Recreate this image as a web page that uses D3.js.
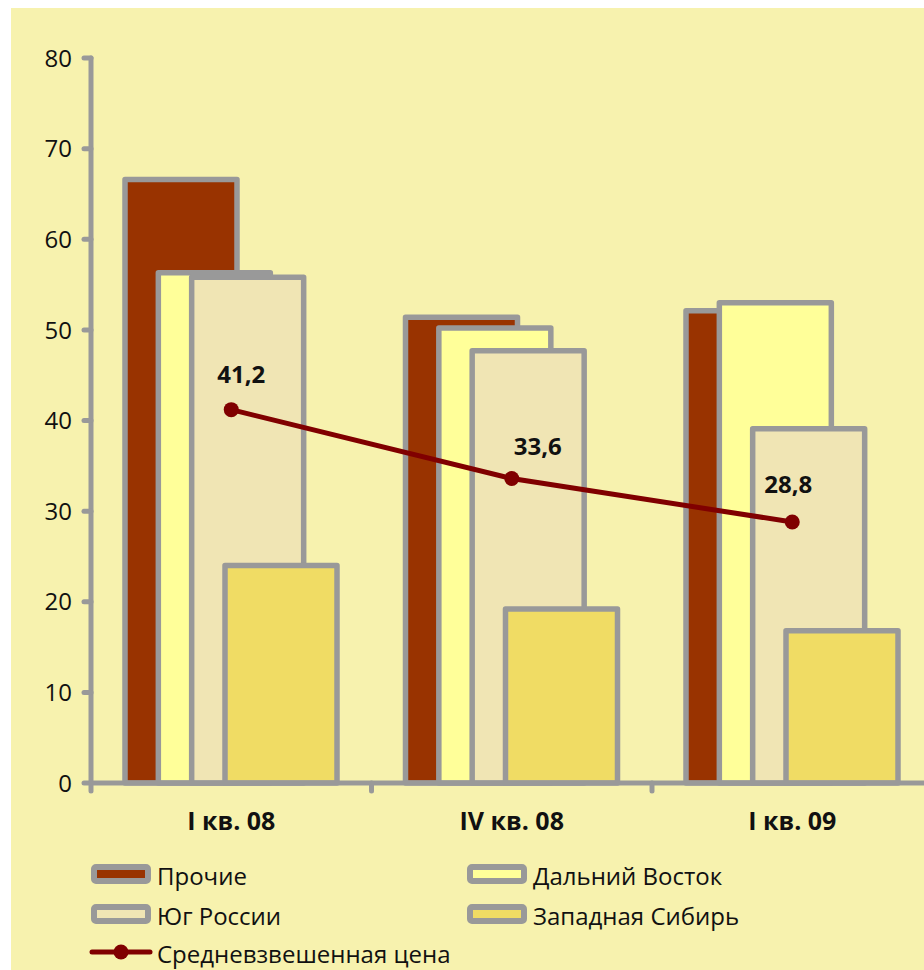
<!DOCTYPE html>
<html><head><meta charset="utf-8">
<script src="https://cdn.jsdelivr.net/npm/d3@7"></script>
<style>
html,body{margin:0;padding:0;background:#fff;}
svg{display:block;}
text{font-family:"Open Sans",sans-serif;}
</style></head>
<body>
<script>
// ---- data ----
const categories = ["I кв. 08", "IV кв. 08", "I кв. 09"];
const seriesNames = ["Прочие", "Дальний Восток", "Юг России", "Западная Сибирь"];
const prochie = [66.6, 51.4, 52.1];
const dalniyVostok = [56.3, 50.2, 53.0];
const yugRossii = [55.8, 47.7, 39.1];
const zapSibir = [24.0, 19.2, 16.8];
const avgPrice = [41.2, 33.6, 28.8];
const avgPriceLabels = ["41,2", "33,6", "28,8"];
const lineName = "Средневзвешенная цена";
const yTicks = [0, 10, 20, 30, 40, 50, 60, 70, 80];

// ---- styling ----
const colors = ["#993300", "#FFFF99", "#F0E5B4", "#F0DC64"];
const barStroke = "#999999";
const lineColor = "#800000";
const labelOffsets = [[10, -27], [26, -24], [-4, -29]];

const W = 924, H = 970;
const svg = d3.select("body").append("svg").attr("width", W).attr("height", H);
svg.append("rect").attr("x", 11).attr("y", 8).attr("width", W - 11).attr("height", H - 8).attr("fill", "#F7F2AE");

const y = d3.scaleLinear().domain([0, 80]).range([783, 58]);
const x = d3.scaleBand().domain(categories).range([91, 91 + 3 * 280.5]).padding(0);
const bw = x.bandwidth();
const sx = d3.scalePoint().domain(seriesNames).range([34, 134]);
const barW = 112;

const seriesValues = [prochie, dalniyVostok, yugRossii, zapSibir];

// bars
seriesNames.forEach((name, si) => {
  svg.append("g").selectAll("rect").data(seriesValues[si]).join("rect")
    .attr("x", (d, i) => x(categories[i]) + sx(name))
    .attr("y", d => y(d))
    .attr("width", barW)
    .attr("height", d => y(0) - y(d))
    .attr("fill", colors[si])
    .attr("stroke", barStroke)
    .attr("stroke-width", 5.5)
    .attr("stroke-linejoin", "round");
});

// axes
const axisG = svg.append("g").attr("stroke", barStroke).attr("stroke-width", 5).attr("stroke-linecap", "round");
axisG.append("line").attr("x1", 91).attr("x2", 940).attr("y1", y(0)).attr("y2", y(0));
axisG.append("line").attr("x1", 91).attr("x2", 91).attr("y1", y(80)).attr("y2", y(0));
axisG.selectAll(".yt").data(yTicks).join("line")
  .attr("x1", 84).attr("x2", 91).attr("y1", d => y(d)).attr("y2", d => y(d));
axisG.selectAll(".xt").data(categories).join("line")
  .attr("x1", d => x(d)).attr("x2", d => x(d)).attr("y1", y(0)).attr("y2", y(0) + 8);

svg.append("g").selectAll("text").data(yTicks).join("text")
  .attr("x", 72).attr("y", d => y(d)).attr("dy", "0.36em")
  .attr("text-anchor", "end").attr("font-size", 24).attr("fill", "#111")
  .text(d => d);

svg.append("g").selectAll("text").data(categories).join("text")
  .attr("x", d => x(d) + bw / 2).attr("y", 830)
  .attr("text-anchor", "middle").attr("font-size", 25).attr("font-weight", "bold").attr("fill", "#111")
  .text(d => d);

// line
const line = d3.line().x((d, i) => x(categories[i]) + bw / 2).y(d => y(d));
svg.append("path").datum(avgPrice).attr("d", line)
  .attr("fill", "none").attr("stroke", lineColor).attr("stroke-width", 5);
svg.append("g").selectAll("circle").data(avgPrice).join("circle")
  .attr("cx", (d, i) => x(categories[i]) + bw / 2).attr("cy", d => y(d)).attr("r", 7.5)
  .attr("fill", lineColor);
svg.append("g").selectAll("text").data(avgPrice).join("text")
  .attr("x", (d, i) => x(categories[i]) + bw / 2 + labelOffsets[i][0])
  .attr("y", (d, i) => y(d) + labelOffsets[i][1])
  .attr("text-anchor", "middle").attr("font-size", 24).attr("font-weight", "bold").attr("fill", "#111")
  .text((d, i) => avgPriceLabels[i]);

// legend
const legPos = [[91, 874], [467, 874], [91, 914], [467, 914]];
seriesNames.forEach((name, si) => {
  const [lx, ly] = legPos[si];
  svg.append("rect").attr("x", lx + 3).attr("y", ly - 7).attr("width", 54).attr("height", 14)
    .attr("rx", 2).attr("fill", colors[si]).attr("stroke", barStroke).attr("stroke-width", 6);
  svg.append("text").attr("x", lx + 66).attr("y", ly + 2).attr("dy", "0.36em")
    .attr("font-size", 24).attr("fill", "#111").text(name);
});
svg.append("line").attr("x1", 92).attr("x2", 150).attr("y1", 952).attr("y2", 952)
  .attr("stroke", lineColor).attr("stroke-width", 5).attr("stroke-linecap", "round");
svg.append("circle").attr("cx", 121).attr("cy", 952).attr("r", 7.5).attr("fill", lineColor);
svg.append("text").attr("x", 157).attr("y", 954).attr("dy", "0.36em")
  .attr("font-size", 24).attr("fill", "#111").text(lineName);
</script>
</body></html>
